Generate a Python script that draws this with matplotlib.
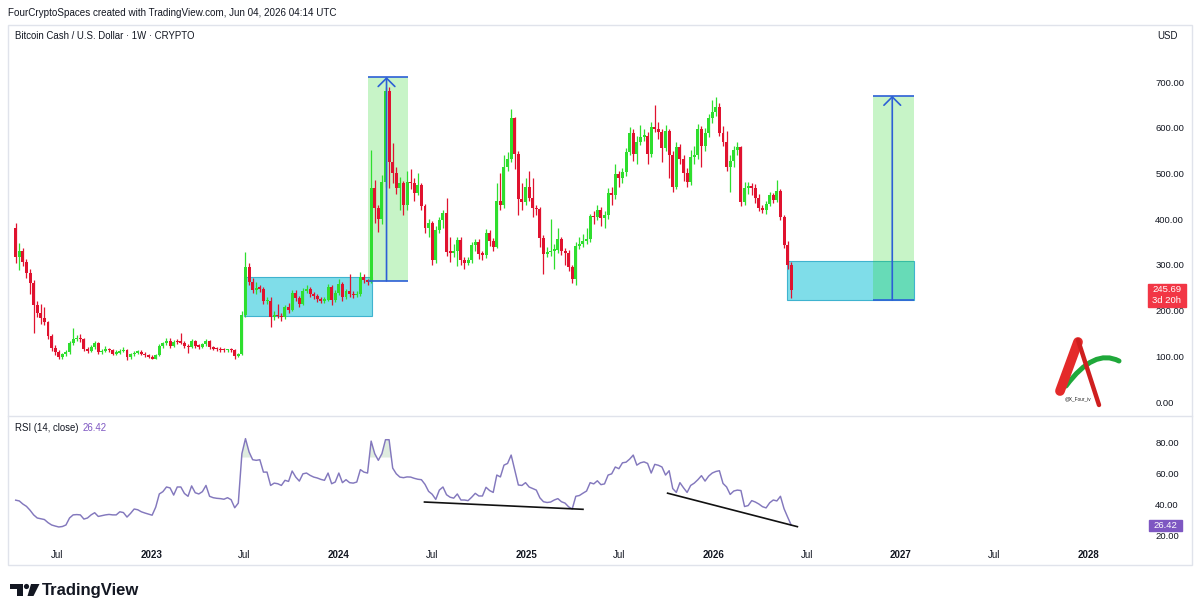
import numpy as np
import pandas as pd
import matplotlib
matplotlib.use('Agg')
import matplotlib.pyplot as plt
import matplotlib.dates as mdates
from matplotlib.patches import Rectangle, Circle, Polygon, PathPatch
from matplotlib.path import Path

plt.rcParams['font.family'] = ['Liberation Sans', 'DejaVu Sans']

# ---- weekly BCH/USD candles ----
last_week = '2026-06-01'
first_open = 380
closes = [318, 330, 307, 282, 260, 212, 195, 184, 175, 144,
          118, 109, 98, 104, 109, 129, 138, 140, 137, 116,
          112, 120, 129, 109, 112, 115, 113, 106, 108, 111,
          114, 98, 104, 108, 109, 106, 102, 99, 95, 103,
          122, 128, 133, 122, 132, 131, 130, 122, 120, 134,
          122, 121, 126, 133, 120, 116, 115, 114, 113, 114,
          113, 101, 104, 190, 296, 263, 245, 250, 248, 221,
          222, 186, 190, 188, 186, 208, 201, 239, 227, 215,
          243, 247, 236, 232, 225, 222, 224, 252, 223, 238,
          258, 230, 242, 236, 234, 236, 274, 266, 262, 468,
          424, 400, 481, 680, 525, 501, 468, 478, 431, 481,
          478, 457, 474, 429, 381, 392, 311, 376, 398, 414,
          328, 327, 330, 354, 311, 304, 311, 343, 350, 324,
          322, 370, 352, 339, 440, 431, 514, 532, 621, 543,
          444, 438, 470, 446, 424, 422, 359, 324, 328, 331,
          333, 357, 331, 326, 295, 269, 341, 345, 352, 356,
          407, 404, 420, 402, 408, 457, 452, 499, 490, 503,
          547, 589, 543, 569, 580, 582, 543, 602, 598, 590,
          556, 593, 540, 471, 558, 532, 501, 481, 536, 540,
          597, 560, 589, 621, 635, 645, 589, 569, 514, 528,
          551, 558, 438, 468, 472, 468, 446, 424, 420, 433,
          453, 442, 462, 405, 343, 300, 245.69]
highs = [392, 348, 336, 312, 290, 266, 220, 214, 208, 178,
         148, 124, 114, 108, 113, 133, 162, 146, 148, 140,
         121, 124, 134, 131, 116, 122, 118, 116, 113, 116,
         120, 116, 108, 112, 114, 113, 109, 105, 102, 106,
         126, 132, 139, 140, 136, 138, 151, 133, 126, 138,
         136, 126, 130, 137, 136, 123, 120, 121, 118, 117,
         118, 115, 108, 200, 328, 304, 272, 262, 256, 252,
         230, 230, 198, 214, 194, 212, 216, 246, 244, 232,
         250, 256, 252, 240, 236, 230, 230, 258, 256, 244,
         270, 262, 248, 280, 242, 242, 284, 280, 270, 552,
         485, 432, 497, 690, 690, 567, 515, 492, 484, 505,
         510, 490, 500, 480, 434, 400, 396, 384, 404, 420,
         446, 360, 345, 360, 360, 318, 318, 350, 356, 356,
         330, 378, 376, 358, 478, 500, 540, 546, 640, 624,
         550, 480, 490, 505, 490, 430, 426, 366, 340, 400,
         345, 380, 362, 336, 332, 300, 350, 360, 368, 380,
         412, 418, 432, 426, 418, 468, 470, 520, 506, 512,
         556, 602, 598, 582, 605, 598, 590, 612, 650, 612,
         598, 606, 598, 548, 568, 565, 540, 512, 552, 560,
         608, 604, 600, 630, 660, 668, 655, 604, 592, 540,
         560, 568, 560, 482, 482, 478, 476, 454, 432, 440,
         460, 458, 486, 466, 410, 352, 306]
lows = [305, 289, 298, 272, 236, 151, 185, 170, 168, 138,
        112, 103, 93, 95, 100, 106, 125, 133, 132, 112,
        108, 109, 116, 105, 106, 109, 109, 102, 103, 105,
        109, 91, 95, 101, 105, 102, 99, 96, 93, 93,
        101, 119, 125, 119, 120, 127, 126, 118, 108, 118,
        119, 117, 118, 123, 117, 113, 112, 110, 110, 110,
        110, 94, 98, 102, 186, 255, 238, 236, 240, 214,
        214, 164, 180, 183, 178, 182, 194, 198, 220, 208,
        212, 238, 230, 225, 218, 216, 217, 220, 212, 218,
        234, 222, 226, 230, 228, 230, 232, 260, 255, 260,
        392, 372, 390, 470, 468, 480, 455, 420, 408, 420,
        465, 440, 452, 420, 370, 360, 300, 305, 370, 380,
        320, 306, 318, 298, 300, 290, 300, 305, 330, 312,
        310, 316, 342, 330, 336, 420, 425, 505, 525, 510,
        410, 420, 432, 440, 405, 410, 340, 280, 318, 320,
        290, 325, 322, 300, 286, 260, 255, 335, 338, 346,
        350, 390, 398, 384, 380, 400, 430, 445, 470, 480,
        495, 540, 528, 520, 562, 570, 520, 536, 590, 575,
        525, 548, 490, 460, 465, 520, 484, 470, 475, 520,
        532, 515, 550, 580, 610, 626, 582, 560, 505, 460,
        515, 540, 428, 432, 455, 452, 436, 418, 414, 412,
        428, 436, 438, 398, 336, 292, 228]
rsi = [42.5, 42, 40, 38.5, 36, 33, 31, 30.5, 30, 28,
       26.5, 25.8, 25.2, 25.5, 26.5, 31, 33, 33.2, 33, 30.3,
       31, 33, 34.4, 32, 32.5, 33, 33.3, 33, 33, 35,
       34.5, 31.6, 34, 36.8, 36.3, 35, 34.2, 33.5, 32.8, 38,
       46.5, 48, 51, 50.4, 45.8, 51, 51, 46.8, 45, 51.7,
       47.3, 46.5, 48, 52, 45, 44.1, 43.7, 43.5, 43.1, 44.1,
       42.8, 37.6, 40.6, 72.5, 82.2, 73.6, 68.6, 68.2, 68.6, 60.6,
       60.6, 52, 53.5, 53.1, 52, 55.3, 54.6, 61.3, 57.4, 54.8,
       59.5, 60, 58.5, 57.4, 56.8, 55.9, 55.3, 60, 53.1, 54.2,
       60, 53.8, 55.7, 53.8, 53.5, 54.2, 62.2, 60.6, 60, 80.6,
       72.5, 68.2, 72.5, 81.5, 81.5, 63.2, 59.5, 57.4, 57, 57.5,
       57.4, 56.6, 56, 55.7, 52.7, 48.2, 46.3, 43, 49, 51,
       46, 44.4, 43.8, 46.5, 42.6, 42.6, 42.2, 44.4, 46.9, 45.2,
       45.2, 50.8, 48.7, 47.5, 58.7, 57.5, 65.1, 66.2, 71.6, 61.9,
       52.3, 52, 53.8, 51, 50, 49, 44, 41.5, 41, 41.3,
       42.6, 43.5, 41.5, 40.6, 38.2, 36.8, 45, 45.5, 47, 48.4,
       53.8, 53, 55, 52.5, 53, 58.7, 59.5, 63.9, 62.8, 66.6,
       67, 69, 71.6, 65.1, 66.6, 67.2, 66.2, 60, 65.6, 65,
       63.9, 58.7, 61.5, 50, 47.5, 53.8, 50.5, 47.5, 52, 53.5,
       55.7, 58.3, 54.8, 58, 60, 61, 61.5, 53.3, 51, 46.2,
       48.4, 49, 48.7, 38.4, 39, 42.2, 41.3, 40, 38.3, 37.5,
       40.8, 42.6, 42, 45, 37, 31.6, 26.42]

# ---- drawings on the chart ----
range_box = ['2023-06-30', '2024-03-06', 188, 274]      # start, end, low, high
pump_box = ['2024-02-26', '2024-05-14', 265, 711]
pump_arrow = '2024-04-03'
target_range = ['2026-05-23', '2027-01-26', 223, 309]
target_box = ['2026-11-07', '2027-01-26', 223, 670]
target_arrow = '2026-12-15'
div1_dates = ['2024-06-16', '2025-04-21']
div1_vals = [41.3, 36.6]
div2_dates = ['2025-10-03', '2026-06-13']
div2_vals = [47.0, 25.4]

price_ticks = [0, 100, 200, 300, 400, 500, 600, 700]
rsi_ticks = [20, 40, 60, 80]
time_ticks = ['2022-07-01', '2023-01-01', '2023-07-01', '2024-01-01', '2024-07-01',
              '2025-01-01', '2025-07-01', '2026-01-01', '2026-07-01', '2027-01-01',
              '2027-07-01', '2028-01-01']
time_labels = ['Jul', '2023', 'Jul', '2024', 'Jul', '2025', 'Jul', '2026', 'Jul',
               '2027', 'Jul', '2028']

GREEN = '#2ede2e'
RED = '#e0122f'
BLUE = '#2c5fd6'
TXT = '#131722'
GRID = '#e0e3eb'
PURPLE = '#7e57c2'

def d(s):
    return mdates.date2num(pd.Timestamp(s))

dates = pd.date_range(end=last_week, periods=len(closes), freq='7D')
x = mdates.date2num(dates)
o = np.array([first_open] + closes[:-1], dtype=float)
c = np.array(closes, dtype=float)
cols = np.where(c >= o, GREEN, RED)

W, H = 1200, 615
fig = plt.figure(figsize=(W / 100, H / 100), dpi=100)
bg = fig.add_axes([0, 0, 1, 1])
bg.set_xlim(0, W)
bg.set_ylim(H, 0)
bg.axis('off')

ax = fig.add_axes([8 / W, 1 - 416 / H, 1132 / W, 391 / H])
rax = fig.add_axes([8 / W, 1 - 540 / H, 1132 / W, 124 / H], sharex=ax)
for a in (ax, rax):
    a.set_facecolor('none')
    for s in a.spines.values():
        s.set_visible(False)

ax.set_xlim(d('2022-03-27'), d('2028-04-11'))
ax.set_ylim(-30.6, 824.7)
rax.set_ylim(16.8, 96.8)

# boxes
def box(axis, spec, fc, ec=None, z=1):
    x0, x1 = d(spec[0]), d(spec[1])
    axis.add_patch(Rectangle((x0, spec[2]), x1 - x0, spec[3] - spec[2], facecolor=fc,
                             edgecolor=ec if ec else 'none', lw=0.8, zorder=z))

blue_fc = (0, 188 / 255, 212 / 255, 0.5)
green_fc = (35 / 255, 215 / 255, 35 / 255, 0.25)
box(ax, range_box, blue_fc, '#3fb3cf', 1)
box(ax, target_range, blue_fc, '#3fb3cf', 1)
box(ax, pump_box, green_fc, None, 2)
box(ax, target_box, green_fc, None, 2)

for bx, xa in ((pump_box, pump_arrow), (target_box, target_arrow)):
    ax.hlines([bx[2], bx[3]], d(bx[0]), d(bx[1]), colors=BLUE, lw=1.2, zorder=5)
    ax.annotate('', xy=(d(xa), bx[3]), xytext=(d(xa), bx[2]),
                arrowprops=dict(arrowstyle='->,head_length=0.6,head_width=0.6',
                                color=BLUE, lw=1.2, shrinkA=0, shrinkB=0), zorder=5)

# candles
ax.vlines(x, lows, highs, colors=cols, lw=0.9, zorder=3)
ax.bar(x, np.maximum(np.abs(c - o), 3), bottom=np.minimum(o, c), width=5.8,
       color=cols, linewidth=0, zorder=4)

ax.yaxis.tick_right()
ax.set_yticks(price_ticks)
ax.set_yticklabels([f'{v:.2f}' for v in price_ticks])
ax.tick_params(axis='y', length=0, pad=11, labelsize=6.8, labelcolor=TXT)
ax.tick_params(axis='x', bottom=False, labelbottom=False)

# RSI
rsi_arr = np.array(rsi)
rax.fill_between(x, rsi_arr, 70, where=rsi_arr > 70, interpolate=True,
                 color='#a5c9a5', alpha=0.35, lw=0)
rax.plot(x, rsi_arr, color='#8378bd', lw=1.05)
rax.plot([d(s) for s in div1_dates], div1_vals, color='#111111', lw=1.2)
rax.plot([d(s) for s in div2_dates], div2_vals, color='#111111', lw=1.2)
rax.yaxis.tick_right()
rax.set_yticks(rsi_ticks)
rax.set_yticklabels([f'{v:.2f}' for v in rsi_ticks])
rax.tick_params(axis='y', length=0, pad=11, labelsize=6.8, labelcolor=TXT)
rax.set_xticks([d(s) for s in time_ticks])
rax.set_xticklabels(time_labels)
rax.tick_params(axis='x', length=0, pad=7, labelsize=7, labelcolor=TXT)
for lab in rax.get_xticklabels():
    if lab.get_text() != 'Jul':
        lab.set_fontweight('bold')

# frame and texts
bg.add_patch(Rectangle((8, 25), 1184, 540, fill=False, edgecolor=GRID, lw=1))
bg.plot([8, 1192], [416, 416], color=GRID, lw=1)
bg.text(8, 13, 'FourCryptoSpaces created with TradingView.com, Jun 04, 2026 04:14 UTC',
        fontsize=7.15, color=TXT, va='center')
bg.text(15, 36, 'Bitcoin Cash / U.S. Dollar · 1W · CRYPTO', fontsize=6.9, color=TXT, va='center')
bg.text(1167, 36, 'USD', fontsize=6.9, color=TXT, va='center', ha='center')
bg.text(15, 428, 'RSI (14, close)', fontsize=6.9, color=TXT, va='center')
bg.text(83, 428, f'{rsi[-1]:.2f}', fontsize=6.9, color=PURPLE, va='center')

# last price / RSI labels on the scales
yp = H - ax.transData.transform((0, closes[-1]))[1]
bg.add_patch(Rectangle((1148, yp - 6), 38, 23, color='#f23645', zorder=5))
bg.text(1167, yp, f'{closes[-1]:.2f}', fontsize=6.8, color='white', ha='center', va='center', zorder=6)
bg.text(1167, yp + 10.5, '3d 20h', fontsize=6.8, color='white', ha='center', va='center', zorder=6)
yr = H - rax.transData.transform((0, rsi[-1]))[1]
bg.add_patch(Rectangle((1149, yr - 5.5), 33, 11, color=PURPLE, zorder=5))
bg.text(1165.5, yr, f'{rsi[-1]:.2f}', fontsize=6.8, color='white', ha='center', va='center', zorder=6)

# author logo
swoosh = Path([(1066, 386), (1094, 348), (1119, 361)], [Path.MOVETO, Path.CURVE3, Path.CURVE3])
bg.add_patch(PathPatch(swoosh, fill=False, edgecolor='#1fa83a', lw=3.6, capstyle='round'))
bg.plot([1060, 1078], [391, 342], color='#e42a2a', lw=7, solid_capstyle='round')
bg.plot([1078, 1099], [340, 405], color='#cf1f1f', lw=3.2, solid_capstyle='round')
bg.text(1078, 399, '@X_Four_iv', fontsize=3.4, color='#222222', ha='center', va='center')

# TradingView logo
bg.add_patch(Rectangle((10, 584), 13, 5, color='#131722', lw=0))
bg.add_patch(Rectangle((16.5, 584), 6.5, 12, color='#131722', lw=0))
bg.add_patch(Circle((26.5, 586.5), 2.6, color='#131722', lw=0))
bg.add_patch(Polygon([(31, 584), (39.5, 584), (33.5, 596), (27.5, 596)], color='#131722', lw=0))
bg.text(42, 590.5, 'TradingView', fontsize=12, fontweight='bold', color='#131722', va='center')

fig.savefig('out.png', dpi=100)
